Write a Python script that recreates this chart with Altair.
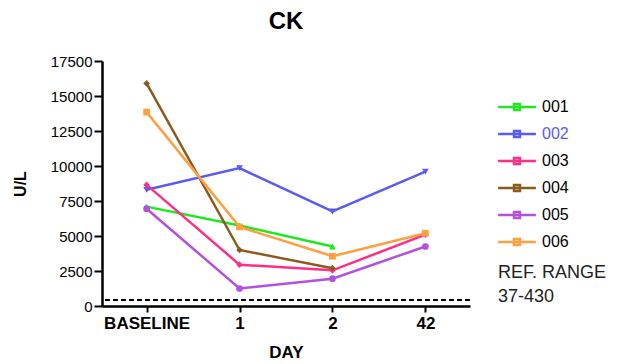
import altair as alt
import pandas as pd

days = ["BASELINE", "1", "2", "42"]
series = ["001", "002", "003", "004", "005", "006"]
v001 = [7100, 5750, 4250, None]
v002 = [8300, 9850, 6750, 9600]
v003 = [8650, 2950, 2550, 5100]
v004 = [15900, 4000, 2700, None]
v005 = [6950, 1250, 1950, 4250]
v006 = [13850, 5650, 3550, 5200]
colors = ["#1ee81e", "#5a5af5", "#ff2f85", "#8c5a1e", "#b450e0", "#ffa040"]
shapes = ["triangle-up", "triangle-down", "diamond", "diamond", "circle", "square"]
marker_sizes = [45, 45, 45, 35, 55, 110]
y_ticks = [0, 2500, 5000, 7500, 10000, 12500, 15000, 17500]
ref_lower = 37
ref_upper = 430

FONT = "Liberation Sans"

rows = []
for s, vals in zip(series, [v001, v002, v003, v004, v005, v006]):
    for d, v in zip(days, vals):
        if v is not None:
            rows.append({"series": s, "marker": s, "day": d, "value": v})
df = pd.DataFrame(rows)

x_enc = alt.X(
    "day:N",
    sort=days,
    scale=alt.Scale(type="point", padding=0.48),
    axis=alt.Axis(
        title="DAY", labelAngle=0, labelFontSize=17, labelFontWeight="bold",
        labelColor="black", titleFontSize=17, titleFontWeight="bold",
        titleColor="black", domainColor="black", domainWidth=2.5,
        tickColor="black", tickWidth=2, tickSize=6, labelPadding=3,
        titlePadding=13, grid=False, labelFont=FONT, titleFont=FONT,
    ),
)
y_axis = alt.Axis(
    title="U/L", values=y_ticks, format="d", labelOverlap=False,
    labelFontSize=15, labelColor="black",
    titleFontSize=16, titleFontWeight="bold", titleColor="black",
    domainColor="black", domainWidth=2.5, tickColor="black", tickWidth=2,
    tickSize=8, labelPadding=2, titlePadding=22, grid=False,
    labelFont=FONT, titleFont=FONT,
)
y_scale = alt.Scale(domain=[0, 17500], nice=False)

color_scale = alt.Scale(domain=series, range=colors)

lines = alt.Chart(df).mark_line(strokeWidth=2.5).encode(
    x=x_enc,
    y=alt.Y("value:Q", scale=y_scale, axis=y_axis),
    color=alt.Color(
        "series:N",
        scale=color_scale,
        legend=alt.Legend(
            title=None, orient="none", legendX=400, legendY=31,
            symbolType="M-1.4,0H1.4M-0.22,-0.22H0.22V0.22H-0.22Z",
            symbolSize=729, symbolStrokeWidth=2.5, labelFontSize=16,
            labelFont=FONT, labelOffset=10, rowPadding=4, padding=0,
            labelColor=alt.ExprRef("datum.value === '002' ? '#5a5af5' : 'black'"),
        ),
    ),
    detail="series:N",
)

points = alt.Chart(df).mark_point(filled=True, opacity=1).encode(
    x=alt.X("day:N", sort=days),
    y=alt.Y("value:Q", scale=y_scale, axis=y_axis),
    color=alt.Color("marker:N", scale=color_scale, legend=None),
    shape=alt.Shape("marker:N", scale=alt.Scale(domain=series, range=shapes), legend=None),
    size=alt.Size("marker:N", scale=alt.Scale(domain=series, range=marker_sizes), legend=None),
)

ref_rule = alt.Chart(pd.DataFrame({"ref": [ref_upper]})).mark_rule(
    color="black", strokeWidth=2.2, strokeDash=[5, 3]
).encode(y=alt.Y("ref:Q", scale=y_scale, axis=y_axis))

ref_text = alt.Chart(pd.DataFrame({
    "t": ["REF. RANGE", f"{ref_lower}-{ref_upper}"],
    "yy": [212, 236],
})).mark_text(align="left", baseline="middle", fontSize=18, font=FONT, color="#222222").encode(
    x=alt.value(396), y=alt.Y("yy:Q", scale=None), text="t:N"
)

chart = alt.layer(lines, points, ref_rule, ref_text).resolve_scale(
    color="independent"
).properties(
    width=368, height=245,
    title=alt.TitleParams("CK", fontSize=24, fontWeight="bold", font=FONT, color="black", offset=20),
    padding={"left": 4, "top": 2, "right": 0, "bottom": 0},
).configure_view(stroke=None)

chart.save("out.html", embed_options={"renderer": "svg", "actions": False})
